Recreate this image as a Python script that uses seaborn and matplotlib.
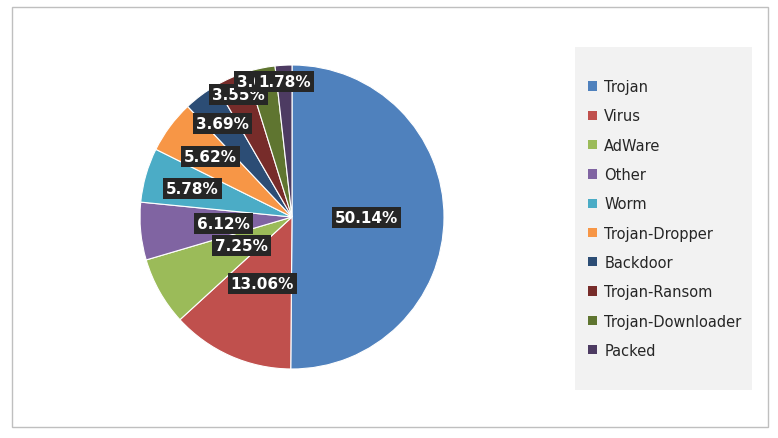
import matplotlib
matplotlib.use("Agg")
import matplotlib.pyplot as plt
import seaborn as sns
import numpy as np
from matplotlib.patches import Patch, Rectangle

sns.set_theme(style="white")

categories = ["Trojan", "Virus", "AdWare", "Other", "Worm", "Trojan-Dropper",
              "Backdoor", "Trojan-Ransom", "Trojan-Downloader", "Packed"]
values = [50.14, 13.06, 7.25, 6.12, 5.78, 5.62, 3.69, 3.55, 3.02, 1.78]
colors = ["#4F81BD", "#C0504D", "#9BBB59", "#8064A2", "#4BACC6", "#F79646",
          "#2C4D75", "#772C2A", "#5F7530", "#4D3B62"]
label_r = [0.49, 0.48, 0.38, 0.45, 0.68, 0.67, 0.77, 0.88, 0.91, 0.89]

fig = plt.figure(figsize=(7.78, 4.39), dpi=100)
fig.patches.append(Rectangle((12/778, 11/439), 756/778, 420/439, transform=fig.transFigure,
                             fill=False, edgecolor="#BFBFBF", linewidth=1))
ax = fig.add_axes([(292-190)/778, (221-190)/439, 380/778, 380/439])
wedges, _ = ax.pie(values, colors=colors, startangle=90, counterclock=False,
                   wedgeprops=dict(edgecolor="white", linewidth=0.8))
ax.set_aspect("equal")
for w, v, r in zip(wedges, values, label_r):
    ang = np.deg2rad((w.theta1 + w.theta2) / 2)
    ax.text(r*np.cos(ang), r*np.sin(ang), f"{v:.2f}%", ha="center", va="center",
            color="white", fontsize=11, fontweight="bold",
            bbox=dict(boxstyle="square,pad=0.2", facecolor="#262626", edgecolor="none"))

lax = fig.add_axes([575/778, 48/439, 177/778, 343/439])
lax.set_facecolor("#F2F2F2")
lax.set_xticks([]); lax.set_yticks([])
for s in lax.spines.values():
    s.set_visible(False)
handles = [Patch(facecolor=c, edgecolor="none") for c in colors]
lax.legend(handles, categories, loc="center left", frameon=False, fontsize=10.5,
           labelspacing=0.98, handlelength=0.6, handleheight=0.6, handletextpad=0.5,
           bbox_to_anchor=(0.0, 0.5))
fig.savefig("out.png", dpi=100)
